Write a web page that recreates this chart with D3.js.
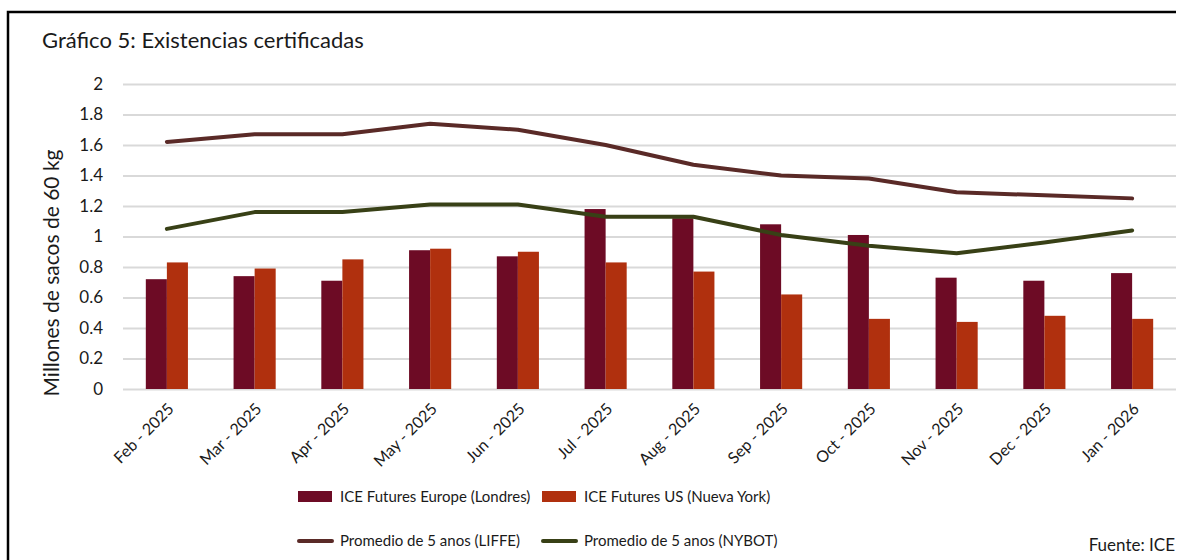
<!DOCTYPE html>
<html>
<head>
<meta charset="utf-8">
<script src="https://cdn.jsdelivr.net/npm/d3@7"></script>
<style>
  body { margin: 0; background: #fff; }
  svg { display: block; font-family: Lato, "Open Sans", sans-serif; }
</style>
</head>
<body>
<div id="chart"></div>
<script>
(function() {
  'use strict';

  var months = ['Feb - 2025', 'Mar - 2025', 'Apr - 2025', 'May - 2025', 'Jun - 2025', 'Jul - 2025',
    'Aug - 2025', 'Sep - 2025', 'Oct - 2025', 'Nov - 2025', 'Dec - 2025', 'Jan - 2026'];
  var iceEurope = [0.72, 0.74, 0.71, 0.91, 0.87, 1.18, 1.12, 1.08, 1.01, 0.73, 0.71, 0.76];
  var iceUS = [0.83, 0.79, 0.85, 0.92, 0.90, 0.83, 0.77, 0.62, 0.46, 0.44, 0.48, 0.46];
  var avgLiffe = [1.62, 1.67, 1.67, 1.74, 1.70, 1.60, 1.47, 1.40, 1.38, 1.29, 1.27, 1.25];
  var avgNybot = [1.05, 1.16, 1.16, 1.21, 1.21, 1.13, 1.13, 1.01, 0.94, 0.89, 0.96, 1.04];
  var yTicks = [0, 0.2, 0.4, 0.6, 0.8, 1, 1.2, 1.4, 1.6, 1.8, 2];

  var COLORS = {
    europe: '#6d0b25',
    us: '#b0300e',
    liffe: '#5a2a27',
    nybot: '#384016',
    grid: '#d9d9d9',
    text: '#1a1a1a'
  };

  var width = 1186, height = 560;
  var plot = { left: 123, right: 1176, top: 84, bottom: 389 };

  var $svg = d3.select('#chart').append('svg')
    .attr('width', width)
    .attr('height', height);

  // frame (right and bottom edges are cut off in the source)
  $svg.append('path')
    .attr('d', 'M8,' + height + 'V12H1176')
    .attr('fill', 'none')
    .attr('stroke', '#000')
    .attr('stroke-width', 2.5);

  $svg.append('text')
    .attr('x', 42)
    .attr('y', 48)
    .attr('font-size', 22)
    .attr('fill', COLORS.text)
    .text('Gráfico 5: Existencias certificadas');

  var x = d3.scaleBand()
    .domain(months)
    .range([plot.left, plot.right])
    .paddingInner(0.52)
    .paddingOuter(0.26);

  var xs = d3.scaleBand()
    .domain(['europe', 'us'])
    .range([0, x.bandwidth()]);

  var y = d3.scaleLinear()
    .domain([0, 2])
    .range([plot.bottom, plot.top]);

  // gridlines + y labels
  var yAxis = $svg.append('g')
    .attr('transform', 'translate(' + plot.left + ',0)')
    .call(d3.axisLeft(y).tickValues(yTicks).tickSize(-(plot.right - plot.left)).tickPadding(20)
      .tickFormat(function(d) { return String(d); }));
  yAxis.select('.domain').remove();
  yAxis.selectAll('line')
    .attr('stroke', COLORS.grid)
    .attr('stroke-width', 2);
  yAxis.selectAll('text')
    .attr('font-size', 17)
    .attr('font-family', 'Lato, sans-serif')
    .attr('fill', COLORS.text);

  $svg.append('text')
    .attr('transform', 'translate(59,273) rotate(-90)')
    .attr('text-anchor', 'middle')
    .attr('font-size', 21)
    .attr('fill', COLORS.text)
    .text('Millones de sacos de 60 kg');

  // bars
  var groups = $svg.append('g').selectAll('g')
    .data(months)
    .join('g')
    .attr('transform', function(d) { return 'translate(' + x(d) + ',0)'; });

  groups.append('rect')
    .attr('x', xs('europe'))
    .attr('width', xs.bandwidth())
    .attr('y', function(d, i) { return y(iceEurope[i]); })
    .attr('height', function(d, i) { return y(0) - y(iceEurope[i]); })
    .attr('fill', COLORS.europe);

  groups.append('rect')
    .attr('x', xs('us'))
    .attr('width', xs.bandwidth())
    .attr('y', function(d, i) { return y(iceUS[i]); })
    .attr('height', function(d, i) { return y(0) - y(iceUS[i]); })
    .attr('fill', COLORS.us);

  // lines
  var line = d3.line()
    .x(function(d, i) { return x(months[i]) + x.bandwidth() / 2; })
    .y(function(d) { return y(d); });

  [[avgLiffe, COLORS.liffe], [avgNybot, COLORS.nybot]].forEach(function(s) {
    $svg.append('path')
      .datum(s[0])
      .attr('d', line)
      .attr('fill', 'none')
      .attr('stroke', s[1])
      .attr('stroke-width', 4)
      .attr('stroke-linejoin', 'round')
      .attr('stroke-linecap', 'round');
  });

  // x labels
  $svg.append('g').selectAll('text')
    .data(months)
    .join('text')
    .attr('transform', function(d) {
      return 'translate(' + (x(d) + x.bandwidth() / 2 + 8) + ',410) rotate(-45)';
    })
    .attr('text-anchor', 'end')
    .attr('font-size', 16)
    .attr('fill', COLORS.text)
    .text(function(d) { return d; });

  // legend
  var legendItems = [
    { label: 'ICE Futures Europe (Londres)', color: COLORS.europe, type: 'bar', x: 298, y: 497 },
    { label: 'ICE Futures US (Nueva York)', color: COLORS.us, type: 'bar', x: 542, y: 497 },
    { label: 'Promedio de 5 anos (LIFFE)', color: COLORS.liffe, type: 'line', x: 298, y: 541 },
    { label: 'Promedio de 5 anos (NYBOT)', color: COLORS.nybot, type: 'line', x: 542, y: 541 }
  ];

  var legend = $svg.append('g').selectAll('g')
    .data(legendItems)
    .join('g')
    .attr('transform', function(d) { return 'translate(' + d.x + ',' + d.y + ')'; });

  legend.filter(function(d) { return d.type === 'bar'; })
    .append('rect')
    .attr('x', 0).attr('y', -6)
    .attr('width', 34).attr('height', 11)
    .attr('fill', function(d) { return d.color; });

  legend.filter(function(d) { return d.type === 'line'; })
    .append('line')
    .attr('x1', 1).attr('x2', 34)
    .attr('stroke', function(d) { return d.color; })
    .attr('stroke-width', 4)
    .attr('stroke-linecap', 'round');

  legend.append('text')
    .attr('x', 42)
    .attr('dy', '0.35em')
    .attr('font-size', 15)
    .attr('fill', COLORS.text)
    .text(function(d) { return d.label; });

  $svg.append('text')
    .attr('x', 1175)
    .attr('y', 551)
    .attr('text-anchor', 'end')
    .attr('font-size', 17)
    .attr('fill', COLORS.text)
    .text('Fuente: ICE');
})();
</script>
</body>
</html>
